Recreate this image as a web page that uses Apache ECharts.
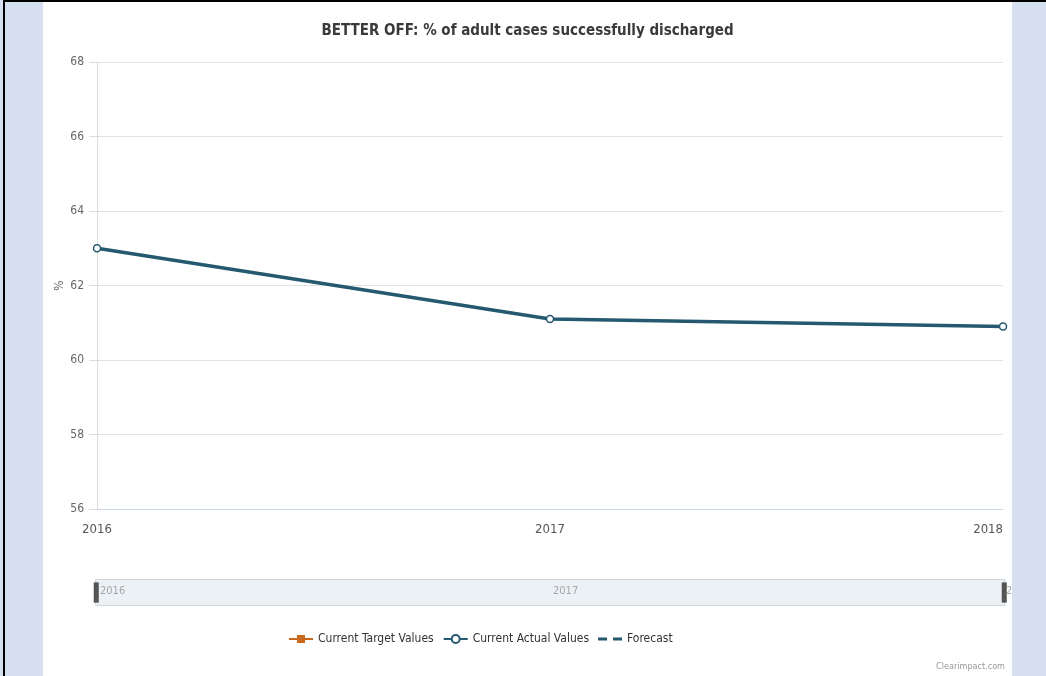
<!DOCTYPE html>
<html>
<head>
<meta charset="utf-8">
<script src="https://cdn.jsdelivr.net/npm/echarts@6/dist/echarts.min.js"></script>
<style>
  html, body { margin: 0; padding: 0; background: #d6e0f1; }
  body { width: 1046px; height: 676px; position: relative; overflow: hidden; }
  #frameTop { position: absolute; left: 3px; top: 0; width: 1043px; height: 2px; background: #000; }
  #frameLeft { position: absolute; left: 3px; top: 0; width: 2px; height: 676px; background: #000; }
  #chart { position: absolute; left: 43px; top: 2px; width: 969px; height: 674px; background: #fff; }
</style>
</head>
<body>
<div id="frameTop"></div>
<div id="frameLeft"></div>
<div id="chart"></div>
<script>
// Years on the horizontal axis
const years = ['2016', '2017', '2018'];
// Percentage of adult cases successfully discharged, per year
const actualValues = [63.0, 61.1, 60.9];
// No target or forecast values have been entered
const targetValues = [];
const forecastValues = [];
// Value axis range
const yMin = 56;
const yMax = 68;
const yStep = 2;

const FONT = "'Liberation Sans Narrow', 'DejaVu Sans Condensed', sans-serif";
const TEAL = '#24596f';
const ORANGE = '#c8691c';

const chart = echarts.init(document.getElementById('chart'));
chart.setOption({
  animation: false,
  textStyle: { fontFamily: FONT },
  title: {
    text: 'BETTER OFF: % of adult cases successfully discharged',
    left: 'center',
    top: 17,
    textStyle: { fontFamily: FONT, fontSize: 15, fontWeight: 'bold', color: '#3a3a3a' }
  },
  grid: [
    { left: 54, right: 9, top: 60, bottom: 167, outerBoundsMode: 'none' },
    { left: 54, right: 9, top: 577, height: 27, outerBoundsMode: 'none' }
  ],
  xAxis: [
    {
      type: 'category',
      data: years,
      boundaryGap: false,
      axisLine: { show: true, lineStyle: { color: '#ccd6eb' } },
      axisTick: { show: false },
      axisLabel: {
        color: '#555', fontSize: 13, margin: 14, fontFamily: FONT,
        alignMaxLabel: 'right', showMaxLabel: true
      },
      splitLine: { show: false }
    },
    {
      type: 'category',
      gridIndex: 1,
      data: years,
      boundaryGap: false,
      z: 10,
      axisLine: { show: false },
      axisTick: { show: false },
      axisLabel: {
        color: '#a6a6a6', fontSize: 11, margin: -20, align: 'left',
        padding: [0, 0, 0, 3], interval: 0, showMaxLabel: true, fontFamily: FONT
      }
    }
  ],
  yAxis: [
    {
      type: 'value',
      min: yMin,
      max: yMax,
      interval: yStep,
      name: '%',
      nameLocation: 'middle',
      nameGap: 31,
      nameRotate: 90,
      nameMoveOverlap: false,
      nameTextStyle: { color: '#666', fontSize: 12, fontFamily: FONT },
      axisLine: { show: true, lineStyle: { color: '#dcdcdc' } },
      axisTick: { show: true, length: 8, lineStyle: { color: '#dcdcdc' } },
      axisLabel: { color: '#666', fontSize: 12, margin: 13, fontFamily: FONT },
      splitLine: { lineStyle: { color: '#e2e2e2' } }
    },
    { type: 'value', gridIndex: 1, show: false, min: 0, max: 1 }
  ],
  dataZoom: [{
    type: 'slider',
    xAxisIndex: [0],
    start: 0,
    end: 100,
    left: 52,
    right: 7,
    top: 577,
    height: 27,
    showDetail: false,
    showDataShadow: false,
    brushSelect: false,
    moveHandleSize: 0,
    backgroundColor: 'rgba(232,238,244,0.75)',
    borderColor: '#cfd6de',
    fillerColor: 'rgba(232,238,244,0.3)',
    handleIcon: 'path://M0,0 L5,0 L5,20 L0,20 Z',
    handleSize: '75%',
    handleStyle: { color: '#555', borderColor: '#444', borderWidth: 0 },
    emphasis: { handleStyle: { color: '#555' } },
    z: 1
  }],
  legend: {
    left: 240,
    top: 626,
    itemGap: 9,
    itemWidth: 24,
    itemHeight: 10,
    textStyle: { color: '#333', fontSize: 12, fontFamily: FONT },
    data: [
      'Current Target Values',
      'Current Actual Values',
      { name: 'Forecast', icon: 'path://M0,4 L9,4 L9,7 L0,7 Z M15,4 L24,4 L24,7 L15,7 Z' }
    ]
  },
  graphic: [{
    type: 'text',
    right: 7,
    top: 660,
    style: { text: 'Clearimpact.com', fill: '#999', fontSize: 9, fontFamily: FONT }
  }],
  series: [
    {
      name: 'Current Target Values',
      type: 'line',
      data: targetValues,
      symbol: 'rect',
      symbolSize: [5, 10],
      itemStyle: { color: ORANGE },
      lineStyle: { color: ORANGE, width: 3 }
    },
    {
      name: 'Current Actual Values',
      type: 'line',
      data: actualValues,
      symbol: 'circle',
      symbolSize: 7,
      showAllSymbol: true,
      itemStyle: { color: '#fff', borderColor: TEAL, borderWidth: 1.5 },
      lineStyle: { color: TEAL, width: 3.5 },
      z: 3
    },
    {
      name: 'Forecast',
      type: 'line',
      data: forecastValues,
      symbol: 'none',
      itemStyle: { color: TEAL },
      lineStyle: { color: TEAL, width: 3, type: 'dashed' }
    }
  ]
});
</script>
</body>
</html>
